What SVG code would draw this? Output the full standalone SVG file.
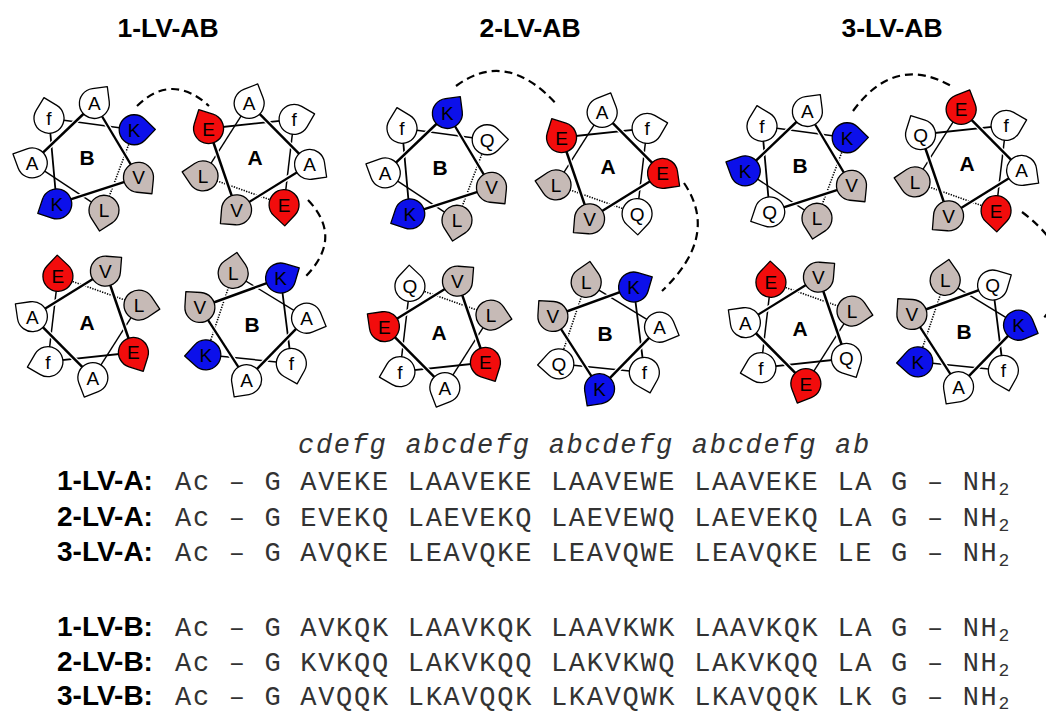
<svg xmlns="http://www.w3.org/2000/svg" xmlns:xlink="http://www.w3.org/1999/xlink" width="1046" height="713" viewBox="0 0 1046 713">
<style>
  .ttl{font-family:"Liberation Sans",Arial,sans-serif;font-weight:bold;font-size:26.5px;text-anchor:middle;fill:#000}
  .nd text{font-family:"Liberation Sans",Arial,sans-serif;font-size:19px;text-anchor:middle;fill:#000}
  .nd text.ctr{font-weight:bold;font-size:21px}
  .nd use{stroke:#000;stroke-width:1.3;stroke-linejoin:round}
  .r{fill:#f20c0c}.b{fill:#0c10ea}.g{fill:#c6bab6}.w{fill:#fff}
  .ln{stroke:#000;fill:none;stroke-linecap:butt}
  .halo{stroke:#fff;stroke-width:5;fill:none}
  .dash{stroke:#000;stroke-width:2.2;fill:none;stroke-dasharray:8 5}
  .lab{font-family:"Liberation Sans",Arial,sans-serif;font-weight:bold;font-size:28px;fill:#000}
  .seq{font-family:"Liberation Mono","Courier New",monospace;font-size:27px;letter-spacing:1.7px;fill:#333}
  .hdr{font-family:"Liberation Mono","Courier New",monospace;font-style:italic;font-size:27px;letter-spacing:1.7px;fill:#333}
  .sub{font-size:18px}
</style>
<defs>
  <!-- residue marker: circle with a pointed tip along +x -->
  <path id="d" d="M21.2,0 L10.6,10.6 A15,15 0 1 1 10.6,-10.6 Z"/>
  <!-- heptad wheel path a-b-c-d-e-f-g, a at angle 0 -->
  <g id="helix">
    <path class="ln" stroke-width="1.6" stroke-dasharray="1.3 1.3" d="M-12.24,-53.62 L55,0"/>
    <path class="ln" stroke-width="1.5" d="M-49.55,23.86 L-12.24,-53.62"/>
    <path class="ln" stroke-width="1.8" d="M34.29,43 L-49.55,23.86"/>
    <path class="ln" stroke-width="1.4" d="M55,0 L-12.24,53.62"/>
    <path class="halo" d="M-12.24,53.62 L-49.55,-23.86"/>
    <path class="ln" stroke-width="2.5" d="M-12.24,53.62 L-49.55,-23.86"/>
    <path class="halo" d="M-49.55,-23.86 L34.29,-43"/>
    <path class="ln" stroke-width="2.3" d="M-49.55,-23.86 L34.29,-43"/>
    <path class="halo" d="M34.29,-43 L34.29,43"/>
    <path class="ln" stroke-width="2.5" d="M34.29,-43 L34.29,43"/>
  </g>
</defs>

<rect width="1046" height="713" fill="#fff"/>

<text class="ttl" x="168" y="37">1-LV-AB</text>
<text class="ttl" x="530" y="37">2-LV-AB</text>
<text class="ttl" x="892" y="37">3-LV-AB</text>

<!-- dashed links between interacting residues -->
<g id="connectors">
  <path class="dash" d="M137,106 Q172,72 209,106"/>
  <path class="dash" d="M308,200 Q344,238 305,277"/>
  <path class="dash" d="M456,86 Q507,48 558,106"/>
  <path class="dash" d="M684,183 Q720,236 662,291"/>
  <path class="dash" d="M853,111 Q895,53 953,87"/>
  <path class="dash" d="M1022,212 Q1092,265 1042,320"/>
</g>

<!-- 1-LV-AB -->
<g id="w1-B-top" class="nd" transform="translate(87 158)">
  <use href="#helix" transform="rotate(72)"/>
  <text class="ctr" y="7">B</text>
  <g transform="rotate(72) translate(55)"><use href="#d" class="g" transform="rotate(30)"/><text transform="rotate(-72)" y="7">L</text></g>
  <g transform="rotate(123.4) translate(55)"><use href="#d" class="b" transform="rotate(30)"/><text transform="rotate(-123.4)" y="7">K</text></g>
  <g transform="rotate(174.9) translate(55)"><use href="#d" class="w" transform="rotate(30)"/><text transform="rotate(-174.9)" y="7">A</text></g>
  <g transform="rotate(226.3) translate(55)"><use href="#d" class="w" transform="rotate(30)"/><text transform="rotate(-226.3)" y="7">f</text></g>
  <g transform="rotate(277.7) translate(55)"><use href="#d" class="w" transform="rotate(30)"/><text transform="rotate(-277.7)" y="7">A</text></g>
  <g transform="rotate(329.1) translate(55)"><use href="#d" class="b" transform="rotate(30)"/><text transform="rotate(-329.1)" y="7">K</text></g>
  <g transform="rotate(20.6) translate(55)"><use href="#d" class="g" transform="rotate(30)"/><text transform="rotate(-20.6)" y="7">V</text></g>
</g>
<g id="w1-A-top" class="nd" transform="translate(255 158)">
  <use href="#helix" transform="rotate(161)"/>
  <text class="ctr" y="7">A</text>
  <g transform="rotate(161) translate(55)"><use href="#d" class="g" transform="rotate(30)"/><text transform="rotate(-161)" y="7">L</text></g>
  <g transform="rotate(212.4) translate(55)"><use href="#d" class="r" transform="rotate(30)"/><text transform="rotate(-212.4)" y="7">E</text></g>
  <g transform="rotate(263.9) translate(55)"><use href="#d" class="w" transform="rotate(30)"/><text transform="rotate(-263.9)" y="7">A</text></g>
  <g transform="rotate(315.3) translate(55)"><use href="#d" class="w" transform="rotate(30)"/><text transform="rotate(-315.3)" y="7">f</text></g>
  <g transform="rotate(6.7) translate(55)"><use href="#d" class="w" transform="rotate(30)"/><text transform="rotate(-6.7)" y="7">A</text></g>
  <g transform="rotate(58.1) translate(55)"><use href="#d" class="r" transform="rotate(30)"/><text transform="rotate(-58.1)" y="7">E</text></g>
  <g transform="rotate(109.6) translate(55)"><use href="#d" class="g" transform="rotate(30)"/><text transform="rotate(-109.6)" y="7">V</text></g>
</g>
<g id="w1-A-bot" class="nd" transform="translate(87 323)">
  <use href="#helix" transform="rotate(341)"/>
  <text class="ctr" y="7">A</text>
  <g transform="rotate(341) translate(55)"><use href="#d" class="g" transform="rotate(30)"/><text transform="rotate(-341)" y="7">L</text></g>
  <g transform="rotate(32.4) translate(55)"><use href="#d" class="r" transform="rotate(30)"/><text transform="rotate(-32.4)" y="7">E</text></g>
  <g transform="rotate(83.9) translate(55)"><use href="#d" class="w" transform="rotate(30)"/><text transform="rotate(-83.9)" y="7">A</text></g>
  <g transform="rotate(135.3) translate(55)"><use href="#d" class="w" transform="rotate(30)"/><text transform="rotate(-135.3)" y="7">f</text></g>
  <g transform="rotate(186.7) translate(55)"><use href="#d" class="w" transform="rotate(30)"/><text transform="rotate(-186.7)" y="7">A</text></g>
  <g transform="rotate(238.1) translate(55)"><use href="#d" class="r" transform="rotate(30)"/><text transform="rotate(-238.1)" y="7">E</text></g>
  <g transform="rotate(289.6) translate(55)"><use href="#d" class="g" transform="rotate(30)"/><text transform="rotate(-289.6)" y="7">V</text></g>
</g>
<g id="w1-B-bot" class="nd" transform="translate(252 325)">
  <use href="#helix" transform="rotate(250)"/>
  <text class="ctr" y="7">B</text>
  <g transform="rotate(250) translate(55)"><use href="#d" class="g" transform="rotate(30)"/><text transform="rotate(-250)" y="7">L</text></g>
  <g transform="rotate(301.4) translate(55)"><use href="#d" class="b" transform="rotate(30)"/><text transform="rotate(-301.4)" y="7">K</text></g>
  <g transform="rotate(352.9) translate(55)"><use href="#d" class="w" transform="rotate(30)"/><text transform="rotate(-352.9)" y="7">A</text></g>
  <g transform="rotate(44.3) translate(55)"><use href="#d" class="w" transform="rotate(30)"/><text transform="rotate(-44.3)" y="7">f</text></g>
  <g transform="rotate(95.7) translate(55)"><use href="#d" class="w" transform="rotate(30)"/><text transform="rotate(-95.7)" y="7">A</text></g>
  <g transform="rotate(147.1) translate(55)"><use href="#d" class="b" transform="rotate(30)"/><text transform="rotate(-147.1)" y="7">K</text></g>
  <g transform="rotate(198.6) translate(55)"><use href="#d" class="g" transform="rotate(30)"/><text transform="rotate(-198.6)" y="7">V</text></g>
</g>

<!-- 2-LV-AB -->
<g id="w2-B-top" class="nd" transform="translate(440 168)">
  <use href="#helix" transform="rotate(72)"/>
  <text class="ctr" y="7">B</text>
  <g transform="rotate(72) translate(55)"><use href="#d" class="g" transform="rotate(30)"/><text transform="rotate(-72)" y="7">L</text></g>
  <g transform="rotate(123.4) translate(55)"><use href="#d" class="b" transform="rotate(30)"/><text transform="rotate(-123.4)" y="7">K</text></g>
  <g transform="rotate(174.9) translate(55)"><use href="#d" class="w" transform="rotate(30)"/><text transform="rotate(-174.9)" y="7">A</text></g>
  <g transform="rotate(226.3) translate(55)"><use href="#d" class="w" transform="rotate(30)"/><text transform="rotate(-226.3)" y="7">f</text></g>
  <g transform="rotate(277.7) translate(55)"><use href="#d" class="b" transform="rotate(30)"/><text transform="rotate(-277.7)" y="7">K</text></g>
  <g transform="rotate(329.1) translate(55)"><use href="#d" class="w" transform="rotate(30)"/><text transform="rotate(-329.1)" y="7">Q</text></g>
  <g transform="rotate(20.6) translate(55)"><use href="#d" class="g" transform="rotate(30)"/><text transform="rotate(-20.6)" y="7">V</text></g>
</g>
<g id="w2-A-top" class="nd" transform="translate(608 167)">
  <use href="#helix" transform="rotate(161)"/>
  <text class="ctr" y="7">A</text>
  <g transform="rotate(161) translate(55)"><use href="#d" class="g" transform="rotate(30)"/><text transform="rotate(-161)" y="7">L</text></g>
  <g transform="rotate(212.4) translate(55)"><use href="#d" class="r" transform="rotate(30)"/><text transform="rotate(-212.4)" y="7">E</text></g>
  <g transform="rotate(263.9) translate(55)"><use href="#d" class="w" transform="rotate(30)"/><text transform="rotate(-263.9)" y="7">A</text></g>
  <g transform="rotate(315.3) translate(55)"><use href="#d" class="w" transform="rotate(30)"/><text transform="rotate(-315.3)" y="7">f</text></g>
  <g transform="rotate(6.7) translate(55)"><use href="#d" class="r" transform="rotate(30)"/><text transform="rotate(-6.7)" y="7">E</text></g>
  <g transform="rotate(58.1) translate(55)"><use href="#d" class="w" transform="rotate(30)"/><text transform="rotate(-58.1)" y="7">Q</text></g>
  <g transform="rotate(109.6) translate(55)"><use href="#d" class="g" transform="rotate(30)"/><text transform="rotate(-109.6)" y="7">V</text></g>
</g>
<g id="w2-A-bot" class="nd" transform="translate(439 333)">
  <use href="#helix" transform="rotate(341)"/>
  <text class="ctr" y="7">A</text>
  <g transform="rotate(341) translate(55)"><use href="#d" class="g" transform="rotate(30)"/><text transform="rotate(-341)" y="7">L</text></g>
  <g transform="rotate(32.4) translate(55)"><use href="#d" class="r" transform="rotate(30)"/><text transform="rotate(-32.4)" y="7">E</text></g>
  <g transform="rotate(83.9) translate(55)"><use href="#d" class="w" transform="rotate(30)"/><text transform="rotate(-83.9)" y="7">A</text></g>
  <g transform="rotate(135.3) translate(55)"><use href="#d" class="w" transform="rotate(30)"/><text transform="rotate(-135.3)" y="7">f</text></g>
  <g transform="rotate(186.7) translate(55)"><use href="#d" class="r" transform="rotate(30)"/><text transform="rotate(-186.7)" y="7">E</text></g>
  <g transform="rotate(238.1) translate(55)"><use href="#d" class="w" transform="rotate(30)"/><text transform="rotate(-238.1)" y="7">Q</text></g>
  <g transform="rotate(289.6) translate(55)"><use href="#d" class="g" transform="rotate(30)"/><text transform="rotate(-289.6)" y="7">V</text></g>
</g>
<g id="w2-B-bot" class="nd" transform="translate(605 334)">
  <use href="#helix" transform="rotate(250)"/>
  <text class="ctr" y="7">B</text>
  <g transform="rotate(250) translate(55)"><use href="#d" class="g" transform="rotate(30)"/><text transform="rotate(-250)" y="7">L</text></g>
  <g transform="rotate(301.4) translate(55)"><use href="#d" class="b" transform="rotate(30)"/><text transform="rotate(-301.4)" y="7">K</text></g>
  <g transform="rotate(352.9) translate(55)"><use href="#d" class="w" transform="rotate(30)"/><text transform="rotate(-352.9)" y="7">A</text></g>
  <g transform="rotate(44.3) translate(55)"><use href="#d" class="w" transform="rotate(30)"/><text transform="rotate(-44.3)" y="7">f</text></g>
  <g transform="rotate(95.7) translate(55)"><use href="#d" class="b" transform="rotate(30)"/><text transform="rotate(-95.7)" y="7">K</text></g>
  <g transform="rotate(147.1) translate(55)"><use href="#d" class="w" transform="rotate(30)"/><text transform="rotate(-147.1)" y="7">Q</text></g>
  <g transform="rotate(198.6) translate(55)"><use href="#d" class="g" transform="rotate(30)"/><text transform="rotate(-198.6)" y="7">V</text></g>
</g>

<!-- 3-LV-AB -->
<g id="w3-B-top" class="nd" transform="translate(800 166)">
  <use href="#helix" transform="rotate(72)"/>
  <text class="ctr" y="7">B</text>
  <g transform="rotate(72) translate(55)"><use href="#d" class="g" transform="rotate(30)"/><text transform="rotate(-72)" y="7">L</text></g>
  <g transform="rotate(123.4) translate(55)"><use href="#d" class="w" transform="rotate(30)"/><text transform="rotate(-123.4)" y="7">Q</text></g>
  <g transform="rotate(174.9) translate(55)"><use href="#d" class="b" transform="rotate(30)"/><text transform="rotate(-174.9)" y="7">K</text></g>
  <g transform="rotate(226.3) translate(55)"><use href="#d" class="w" transform="rotate(30)"/><text transform="rotate(-226.3)" y="7">f</text></g>
  <g transform="rotate(277.7) translate(55)"><use href="#d" class="w" transform="rotate(30)"/><text transform="rotate(-277.7)" y="7">A</text></g>
  <g transform="rotate(329.1) translate(55)"><use href="#d" class="b" transform="rotate(30)"/><text transform="rotate(-329.1)" y="7">K</text></g>
  <g transform="rotate(20.6) translate(55)"><use href="#d" class="g" transform="rotate(30)"/><text transform="rotate(-20.6)" y="7">V</text></g>
</g>
<g id="w3-A-top" class="nd" transform="translate(967 164)">
  <use href="#helix" transform="rotate(161)"/>
  <text class="ctr" y="7">A</text>
  <g transform="rotate(161) translate(55)"><use href="#d" class="g" transform="rotate(30)"/><text transform="rotate(-161)" y="7">L</text></g>
  <g transform="rotate(212.4) translate(55)"><use href="#d" class="w" transform="rotate(30)"/><text transform="rotate(-212.4)" y="7">Q</text></g>
  <g transform="rotate(263.9) translate(55)"><use href="#d" class="r" transform="rotate(30)"/><text transform="rotate(-263.9)" y="7">E</text></g>
  <g transform="rotate(315.3) translate(55)"><use href="#d" class="w" transform="rotate(30)"/><text transform="rotate(-315.3)" y="7">f</text></g>
  <g transform="rotate(6.7) translate(55)"><use href="#d" class="w" transform="rotate(30)"/><text transform="rotate(-6.7)" y="7">A</text></g>
  <g transform="rotate(58.1) translate(55)"><use href="#d" class="r" transform="rotate(30)"/><text transform="rotate(-58.1)" y="7">E</text></g>
  <g transform="rotate(109.6) translate(55)"><use href="#d" class="g" transform="rotate(30)"/><text transform="rotate(-109.6)" y="7">V</text></g>
</g>
<g id="w3-A-bot" class="nd" transform="translate(800 329)">
  <use href="#helix" transform="rotate(341)"/>
  <text class="ctr" y="7">A</text>
  <g transform="rotate(341) translate(55)"><use href="#d" class="g" transform="rotate(30)"/><text transform="rotate(-341)" y="7">L</text></g>
  <g transform="rotate(32.4) translate(55)"><use href="#d" class="w" transform="rotate(30)"/><text transform="rotate(-32.4)" y="7">Q</text></g>
  <g transform="rotate(83.9) translate(55)"><use href="#d" class="r" transform="rotate(30)"/><text transform="rotate(-83.9)" y="7">E</text></g>
  <g transform="rotate(135.3) translate(55)"><use href="#d" class="w" transform="rotate(30)"/><text transform="rotate(-135.3)" y="7">f</text></g>
  <g transform="rotate(186.7) translate(55)"><use href="#d" class="w" transform="rotate(30)"/><text transform="rotate(-186.7)" y="7">A</text></g>
  <g transform="rotate(238.1) translate(55)"><use href="#d" class="r" transform="rotate(30)"/><text transform="rotate(-238.1)" y="7">E</text></g>
  <g transform="rotate(289.6) translate(55)"><use href="#d" class="g" transform="rotate(30)"/><text transform="rotate(-289.6)" y="7">V</text></g>
</g>
<g id="w3-B-bot" class="nd" transform="translate(964 332)">
  <use href="#helix" transform="rotate(250)"/>
  <text class="ctr" y="7">B</text>
  <g transform="rotate(250) translate(55)"><use href="#d" class="g" transform="rotate(30)"/><text transform="rotate(-250)" y="7">L</text></g>
  <g transform="rotate(301.4) translate(55)"><use href="#d" class="w" transform="rotate(30)"/><text transform="rotate(-301.4)" y="7">Q</text></g>
  <g transform="rotate(352.9) translate(55)"><use href="#d" class="b" transform="rotate(30)"/><text transform="rotate(-352.9)" y="7">K</text></g>
  <g transform="rotate(44.3) translate(55)"><use href="#d" class="w" transform="rotate(30)"/><text transform="rotate(-44.3)" y="7">f</text></g>
  <g transform="rotate(95.7) translate(55)"><use href="#d" class="w" transform="rotate(30)"/><text transform="rotate(-95.7)" y="7">A</text></g>
  <g transform="rotate(147.1) translate(55)"><use href="#d" class="b" transform="rotate(30)"/><text transform="rotate(-147.1)" y="7">K</text></g>
  <g transform="rotate(198.6) translate(55)"><use href="#d" class="g" transform="rotate(30)"/><text transform="rotate(-198.6)" y="7">V</text></g>
</g>

<!-- sequences -->
<g id="sequences">
  <text class="hdr" x="298" y="453">cdefg abcdefg abcdefg abcdefg ab</text>
  <text class="lab" x="57" y="490">1-LV-A:</text>
  <text class="seq" x="175" y="490">Ac – G AVEKE LAAVEKE LAAVEWE LAAVEKE LA G – NH<tspan class="sub" dy="5">2</tspan></text>
  <text class="lab" x="57" y="526">2-LV-A:</text>
  <text class="seq" x="175" y="526">Ac – G EVEKQ LAEVEKQ LAEVEWQ LAEVEKQ LA G – NH<tspan class="sub" dy="5">2</tspan></text>
  <text class="lab" x="57" y="561">3-LV-A:</text>
  <text class="seq" x="175" y="561">Ac – G AVQKE LEAVQKE LEAVQWE LEAVQKE LE G – NH<tspan class="sub" dy="5">2</tspan></text>
  <text class="lab" x="57" y="636">1-LV-B:</text>
  <text class="seq" x="175" y="636">Ac – G AVKQK LAAVKQK LAAVKWK LAAVKQK LA G – NH<tspan class="sub" dy="5">2</tspan></text>
  <text class="lab" x="57" y="671">2-LV-B:</text>
  <text class="seq" x="175" y="671">Ac – G KVKQQ LAKVKQQ LAKVKWQ LAKVKQQ LA G – NH<tspan class="sub" dy="5">2</tspan></text>
  <text class="lab" x="57" y="705">3-LV-B:</text>
  <text class="seq" x="175" y="705">Ac – G AVQQK LKAVQQK LKAVQWK LKAVQQK LK G – NH<tspan class="sub" dy="4">2</tspan></text>
</g>
</svg>
